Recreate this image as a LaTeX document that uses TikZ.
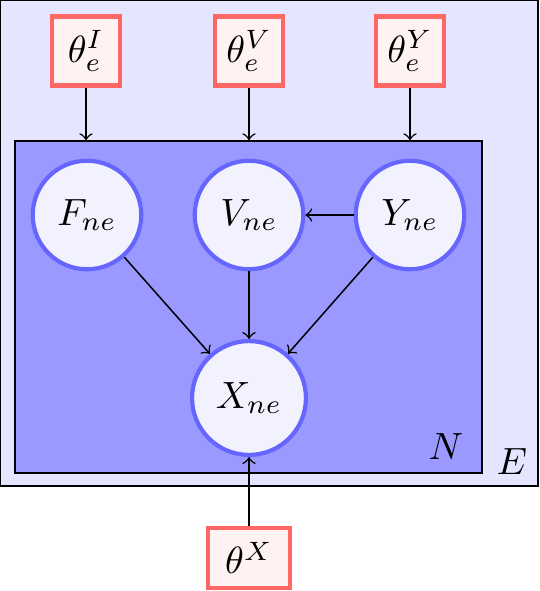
\documentclass[tikz,border=0pt]{standalone}
\usepackage{tikz}

\begin{document}
\begin{tikzpicture}[x=0.2635pt,y=-0.2635pt,
  plate/.style={draw, rectangle, inner sep=0pt},
  param/.style={draw=red!60, fill=red!5, line width=1.1pt, rectangle,
    minimum width=18pt, minimum height=18.2pt, inner sep=1pt},
  latent/.style={draw=blue!60, fill=blue!5, line width=1.1pt, circle,
    minimum size=28.6pt, inner sep=0pt}]
\useasboundingbox (0,0) rectangle (540,591);

\node[plate, fill=blue!10, minimum width=141.8pt, minimum height=128.1pt] (E) at (269,243) {};
\node[plate, fill=blue!40, minimum width=123.1pt, minimum height=87.5pt] (N) at (248.5,307) {};
\node (nlab) at (446,447) {$N$};
\node (elab) at (512,462) {$E$};

\node[param] (thI) at (86,51) {$\theta_e^I$};
\node[param] (thV) at (249,51) {$\theta_e^V$};
\node[param] (thY) at (410,51) {$\theta_e^Y$};
\node[latent] (F) at (87,215) {$F_{ne}$};
\node[latent] (V) at (249,215) {$V_{ne}$};
\node[latent] (Y) at (410,215) {$Y_{ne}$};
\node[latent, minimum size=30pt] (X) at (249,398) {$X_{ne}$};
\node[param, minimum width=21.4pt, minimum height=15.8pt] (thX) at (249,558) {$\theta^X$};

\draw[->] (thI) -- (thI |- N.north);
\draw[->] (thV) -- (thV |- N.north);
\draw[->] (thY) -- (thY |- N.north);
\draw[->] (Y) -- (V);
\draw[->] (F) -- (X);
\draw[->] (V) -- (X);
\draw[->] (Y) -- (X);
\draw[->] (thX) -- (X);
\end{tikzpicture}
\end{document}
